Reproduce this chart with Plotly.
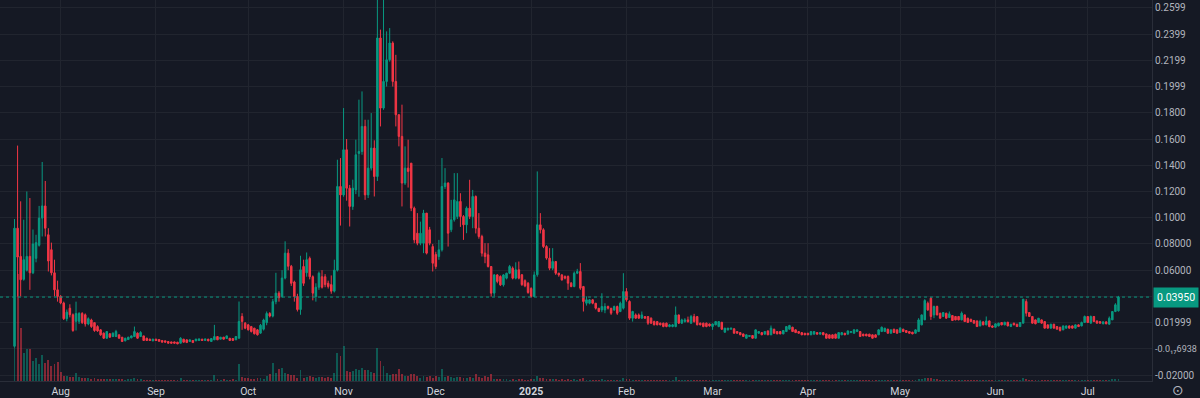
import pandas as pd
import plotly.graph_objects as go

start_date = "2024-07-17"

# ---- daily OHLC (one line per month) ----
open_ = [
    0.002, 0.092, 0.0705, 0.053, 0.060, 0.0705, 0.058, 0.069, 0.079, 0.0997, 0.109, 0.087, 0.0756, 0.058, 0.045,
    0.040, 0.035, 0.023, 0.031, 0.026, 0.021, 0.021, 0.027, 0.026, 0.019, 0.022, 0.020, 0.017, 0.0145, 0.012, 0.0081, 0.0115, 0.0094, 0.0094, 0.0107, 0.0089, 0.0061, 0.0071, 0.0084, 0.0094, 0.012, 0.0094, 0.0099, 0.0081, 0.0074, 0.0061,
    0.0074, 0.0071, 0.0064, 0.0061, 0.0056, 0.0053, 0.0053, 0.0051, 0.0043, 0.0074, 0.0069, 0.0056, 0.0064, 0.0061, 0.0064, 0.0074, 0.0064, 0.0074, 0.0056, 0.0069, 0.0094, 0.0074, 0.0089, 0.0079, 0.0081, 0.0079, 0.0069, 0.0081, 0.0247, 0.0196,
    0.0183, 0.0170, 0.0158, 0.0145, 0.012, 0.015, 0.020, 0.027, 0.025, 0.036, 0.0425, 0.040, 0.054, 0.073, 0.063, 0.051, 0.040, 0.030, 0.0628, 0.058, 0.069, 0.055, 0.040, 0.047, 0.055, 0.055, 0.050, 0.049, 0.044, 0.060, 0.1238,
    0.1174, 0.1518, 0.1225, 0.1086, 0.1212, 0.149, 0.1505, 0.1696, 0.1174, 0.1378, 0.1531, 0.1314, 0.2370, 0.1836, 0.2039, 0.2204, 0.2332, 0.2039, 0.1785, 0.162, 0.1264, 0.1378, 0.1416, 0.1073, 0.0882, 0.0806, 0.0806, 0.1035, 0.0908, 0.078,
    0.0720, 0.0704, 0.0755, 0.1238, 0.1264, 0.0908, 0.0984, 0.1009, 0.1124, 0.1009, 0.0946, 0.1073, 0.1009, 0.1162, 0.0920, 0.0857, 0.0730, 0.0717, 0.0628, 0.0425, 0.0564, 0.0552, 0.0488, 0.0539, 0.0577, 0.0615, 0.0539, 0.0603, 0.0565, 0.052, 0.050,
    0.046, 0.040, 0.0565, 0.0946, 0.0908, 0.0780, 0.0692, 0.0615, 0.0666, 0.0577, 0.0564, 0.0552, 0.0552, 0.0501, 0.0475, 0.0577, 0.059, 0.0475, 0.0348, 0.0348, 0.0374, 0.0348, 0.0310, 0.0297, 0.0297, 0.0323, 0.0310, 0.0297, 0.0323, 0.0285, 0.0310,
    0.0437, 0.0361, 0.0234, 0.0259, 0.0259, 0.0234, 0.0246, 0.0246, 0.0234, 0.0208, 0.0208, 0.0196, 0.0196, 0.0196, 0.0170, 0.0170, 0.0170, 0.0259, 0.0196, 0.0208, 0.0221, 0.0196, 0.0246, 0.0246, 0.0196, 0.0196, 0.0196, 0.0190,
    0.0170, 0.0183, 0.0170, 0.0203, 0.0127, 0.0145, 0.0150, 0.0153, 0.0132, 0.0124, 0.0114, 0.0081, 0.0094, 0.0102, 0.0081, 0.0119, 0.0124, 0.0112, 0.0137, 0.0107, 0.0150, 0.0132, 0.0132, 0.0114, 0.0132, 0.0150, 0.0165, 0.0145, 0.0132, 0.0124, 0.0119,
    0.0119, 0.0107, 0.0112, 0.0124, 0.0112, 0.0124, 0.0114, 0.0107, 0.0107, 0.0112, 0.0081, 0.0107, 0.0119, 0.0112, 0.0124, 0.0119, 0.0132, 0.0132, 0.0112, 0.0112, 0.0112, 0.0107, 0.0107, 0.0107, 0.0132, 0.0132, 0.0150, 0.0119, 0.0150, 0.0145,
    0.0125, 0.0150, 0.0140, 0.0132, 0.0127, 0.0119, 0.0132, 0.0183, 0.0221, 0.0348, 0.0386, 0.0259, 0.0323, 0.0272, 0.0247, 0.0272, 0.0239, 0.0254, 0.0247, 0.0247, 0.0221, 0.0259, 0.0234, 0.0226, 0.0216, 0.0213, 0.0175, 0.0206, 0.0183, 0.0213, 0.0175,
    0.0165, 0.0175, 0.0201, 0.0183, 0.0203, 0.0170, 0.0196, 0.0188, 0.0170, 0.0196, 0.0361, 0.0277, 0.0247, 0.0221, 0.0201, 0.0221, 0.0208, 0.0183, 0.0158, 0.0188, 0.0170, 0.0165, 0.0145, 0.0158, 0.0175, 0.0175, 0.0158, 0.0183, 0.0175, 0.0201,
    0.0247, 0.0196, 0.0247, 0.0213, 0.0208, 0.0191, 0.0206, 0.0188, 0.0221, 0.0285, 0.0290,
]

high = [
    0.099, 0.155, 0.1125, 0.0985, 0.120, 0.115, 0.091, 0.087, 0.109, 0.1425, 0.128, 0.092, 0.081, 0.068, 0.052,
    0.041, 0.036, 0.030, 0.034, 0.027, 0.036, 0.028, 0.028, 0.027, 0.024, 0.023, 0.020, 0.018, 0.015, 0.0125, 0.0135, 0.012, 0.0125, 0.0145, 0.011, 0.009, 0.0085, 0.0092, 0.0102, 0.017, 0.0125, 0.0135, 0.010, 0.0085, 0.0078, 0.0077,
    0.0077, 0.0074, 0.0066, 0.0063, 0.0058, 0.0055, 0.0055, 0.0053, 0.0089, 0.0076, 0.0071, 0.0071, 0.0066, 0.0077, 0.0079, 0.0076, 0.0078, 0.0076, 0.0081, 0.0183, 0.0096, 0.0091, 0.0091, 0.0102, 0.0083, 0.0081, 0.0097, 0.0361, 0.0272, 0.0205,
    0.019, 0.0175, 0.016, 0.015, 0.019, 0.023, 0.0285, 0.028, 0.038, 0.058, 0.044, 0.060, 0.082, 0.076, 0.064, 0.052, 0.042, 0.071, 0.068, 0.0735, 0.0704, 0.056, 0.050, 0.059, 0.060, 0.057, 0.052, 0.056, 0.068, 0.1442, 0.1455,
    0.1836, 0.160, 0.125, 0.129, 0.1595, 0.190, 0.1963, 0.1747, 0.1747, 0.1798, 0.159, 0.266, 0.2434, 0.266, 0.2421, 0.2446, 0.2345, 0.2242, 0.179, 0.1862, 0.1544, 0.1595, 0.1416, 0.1085, 0.1035, 0.097, 0.106, 0.1035, 0.093, 0.080,
    0.0740, 0.0831, 0.1455, 0.1378, 0.127, 0.1136, 0.134, 0.134, 0.1187, 0.102, 0.1086, 0.1289, 0.1212, 0.117, 0.1035, 0.087, 0.0806, 0.0806, 0.063, 0.057, 0.057, 0.056, 0.057, 0.058, 0.064, 0.0628, 0.066, 0.0666, 0.057, 0.053, 0.051,
    0.047, 0.059, 0.1353, 0.1035, 0.092, 0.079, 0.0768, 0.0768, 0.067, 0.058, 0.057, 0.056, 0.056, 0.051, 0.059, 0.061, 0.0654, 0.048, 0.040, 0.038, 0.038, 0.035, 0.031, 0.0424, 0.0348, 0.033, 0.031, 0.033, 0.033, 0.036, 0.0577,
    0.0463, 0.037, 0.029, 0.027, 0.027, 0.0285, 0.025, 0.025, 0.024, 0.0215, 0.021, 0.020, 0.020, 0.020, 0.019, 0.019, 0.0323, 0.026, 0.023, 0.0234, 0.0246, 0.0259, 0.0267, 0.025, 0.020, 0.020, 0.020, 0.0193,
    0.0193, 0.021, 0.021, 0.0205, 0.016, 0.016, 0.016, 0.0156, 0.0135, 0.0127, 0.0117, 0.011, 0.0105, 0.0104, 0.0148, 0.0135, 0.0127, 0.0135, 0.014, 0.0178, 0.0153, 0.0135, 0.0135, 0.0143, 0.0173, 0.0183, 0.0168, 0.0148, 0.0135, 0.0127, 0.0122,
    0.0122, 0.0135, 0.0135, 0.0127, 0.0127, 0.0127, 0.0117, 0.011, 0.011, 0.0115, 0.0127, 0.0127, 0.0122, 0.014, 0.0135, 0.015, 0.0148, 0.0135, 0.0115, 0.0115, 0.0115, 0.011, 0.011, 0.015, 0.017, 0.016, 0.0153, 0.0148, 0.0153, 0.0148,
    0.0165, 0.0153, 0.0143, 0.0135, 0.013, 0.0148, 0.0234, 0.0262, 0.0379, 0.0361, 0.0394, 0.033, 0.033, 0.0275, 0.028, 0.0275, 0.0285, 0.0257, 0.025, 0.025, 0.0285, 0.0262, 0.0237, 0.0229, 0.0219, 0.0216, 0.0221, 0.0209, 0.0247, 0.0216, 0.0178,
    0.0194, 0.0199, 0.0204, 0.0206, 0.0206, 0.0191, 0.0199, 0.0191, 0.0204, 0.0379, 0.0379, 0.028, 0.025, 0.0224, 0.0234, 0.0224, 0.0211, 0.0186, 0.0191, 0.0191, 0.0173, 0.0168, 0.0178, 0.0178, 0.0178, 0.0178, 0.0186, 0.0186, 0.0208, 0.0254,
    0.025, 0.0254, 0.025, 0.0216, 0.0211, 0.0209, 0.0209, 0.0247, 0.0285, 0.0348, 0.0404,
]

low = [
    0.001, 0.040, 0.040, 0.052, 0.059, 0.045, 0.057, 0.066, 0.078, 0.0857, 0.0857, 0.059, 0.056, 0.040, 0.036,
    0.034, 0.022, 0.021, 0.024, 0.013, 0.014, 0.019, 0.019, 0.017, 0.018, 0.016, 0.013, 0.013, 0.010, 0.0075, 0.0078, 0.0085, 0.009, 0.009, 0.0078, 0.0053, 0.0058, 0.0068, 0.008, 0.009, 0.0078, 0.009, 0.006, 0.006, 0.006, 0.0058,
    0.006, 0.0055, 0.0048, 0.0049, 0.0041, 0.0041, 0.004, 0.0036, 0.0041, 0.0049, 0.0046, 0.0053, 0.0046, 0.0059, 0.0062, 0.0062, 0.0062, 0.0059, 0.0054, 0.0067, 0.0067, 0.0072, 0.0072, 0.0077, 0.0062, 0.0062, 0.0067, 0.0079, 0.0145, 0.015,
    0.014, 0.0125, 0.011, 0.0102, 0.0115, 0.014, 0.018, 0.024, 0.024, 0.034, 0.036, 0.039, 0.053, 0.060, 0.048, 0.036, 0.0285, 0.026, 0.048, 0.055, 0.053, 0.037, 0.036, 0.045, 0.046, 0.047, 0.046, 0.042, 0.043, 0.059, 0.094,
    0.116, 0.113, 0.0933, 0.106, 0.118, 0.116, 0.148, 0.1136, 0.115, 0.136, 0.1162, 0.128, 0.1696, 0.1823, 0.200, 0.219, 0.200, 0.1696, 0.1544, 0.1086, 0.125, 0.123, 0.105, 0.0806, 0.079, 0.079, 0.073, 0.072, 0.079, 0.059,
    0.061, 0.0679, 0.0742, 0.122, 0.078, 0.089, 0.097, 0.099, 0.093, 0.0831, 0.0882, 0.099, 0.092, 0.088, 0.084, 0.0704, 0.0653, 0.062, 0.0399, 0.0399, 0.050, 0.048, 0.0475, 0.053, 0.057, 0.053, 0.053, 0.053, 0.048, 0.047, 0.042,
    0.039, 0.0395, 0.055, 0.088, 0.0768, 0.068, 0.060, 0.060, 0.0564, 0.055, 0.052, 0.053, 0.045, 0.047, 0.047, 0.057, 0.045, 0.0285, 0.033, 0.034, 0.034, 0.030, 0.028, 0.028, 0.0272, 0.030, 0.0259, 0.029, 0.0259, 0.028, 0.030,
    0.036, 0.0221, 0.0208, 0.023, 0.023, 0.023, 0.0228, 0.0183, 0.019, 0.018, 0.018, 0.018, 0.0165, 0.0165, 0.0165, 0.0165, 0.0165, 0.019, 0.019, 0.020, 0.020, 0.019, 0.020, 0.018, 0.018, 0.0165, 0.0165, 0.017,
    0.0145, 0.018, 0.0165, 0.0145, 0.0124, 0.014, 0.0148, 0.0117, 0.0117, 0.0105, 0.0092, 0.0079, 0.0092, 0.0079, 0.0079, 0.0115, 0.0105, 0.011, 0.0105, 0.0105, 0.0117, 0.0112, 0.0112, 0.0112, 0.013, 0.0148, 0.013, 0.0122, 0.0117, 0.0105, 0.0105,
    0.0105, 0.0105, 0.011, 0.011, 0.011, 0.0105, 0.0079, 0.0079, 0.0079, 0.0079, 0.0079, 0.0105, 0.0105, 0.011, 0.0122, 0.0117, 0.013, 0.0092, 0.0097, 0.0097, 0.0092, 0.0079, 0.009, 0.0105, 0.013, 0.013, 0.0117, 0.0117, 0.0122, 0.0117,
    0.0122, 0.013, 0.0122, 0.0117, 0.0112, 0.0117, 0.013, 0.018, 0.022, 0.029, 0.0221, 0.0234, 0.0255, 0.023, 0.0245, 0.023, 0.0237, 0.0213, 0.0218, 0.0218, 0.0218, 0.0205, 0.0198, 0.0205, 0.0193, 0.0167, 0.0172, 0.018, 0.018, 0.0165, 0.016,
    0.0162, 0.0172, 0.018, 0.018, 0.0172, 0.0167, 0.018, 0.0167, 0.0167, 0.0193, 0.0247, 0.0244, 0.0193, 0.0188, 0.0198, 0.0193, 0.0155, 0.0155, 0.0155, 0.0155, 0.0147, 0.0132, 0.0142, 0.0155, 0.0155, 0.0155, 0.0155, 0.0167, 0.0172, 0.0198,
    0.0198, 0.0193, 0.0205, 0.0193, 0.0193, 0.0188, 0.0188, 0.0185, 0.022, 0.028, 0.0285,
]

close = [
    0.092, 0.070, 0.0527, 0.068, 0.0705, 0.058, 0.080, 0.081, 0.0997, 0.109, 0.092, 0.067, 0.058, 0.045, 0.040,
    0.035, 0.023, 0.028, 0.026, 0.014, 0.027, 0.027, 0.020, 0.019, 0.023, 0.017, 0.014, 0.0137, 0.0107, 0.0081, 0.0132, 0.0089, 0.012, 0.0132, 0.0081, 0.0056, 0.0081, 0.0089, 0.0099, 0.0132, 0.0081, 0.0125, 0.0064, 0.0064, 0.0064, 0.0074,
    0.0064, 0.0058, 0.0051, 0.0051, 0.0043, 0.0043, 0.0043, 0.0038, 0.0081, 0.0051, 0.0048, 0.0069, 0.0048, 0.0074, 0.0076, 0.0064, 0.0076, 0.0061, 0.0079, 0.0094, 0.0069, 0.0089, 0.0074, 0.0099, 0.0064, 0.0064, 0.0094, 0.0209, 0.0209, 0.0158,
    0.0145, 0.0132, 0.0115, 0.0107, 0.018, 0.022, 0.027, 0.025, 0.036, 0.0425, 0.039, 0.054, 0.073, 0.063, 0.050, 0.040, 0.030, 0.0603, 0.050, 0.068, 0.055, 0.0425, 0.047, 0.0577, 0.047, 0.049, 0.0475, 0.044, 0.060, 0.1238, 0.1174,
    0.1518, 0.1225, 0.1086, 0.1225, 0.148, 0.1505, 0.1696, 0.1174, 0.1378, 0.1531, 0.1314, 0.2370, 0.1836, 0.2039, 0.2204, 0.2332, 0.2039, 0.1785, 0.162, 0.1264, 0.1378, 0.1353, 0.1073, 0.0831, 0.0806, 0.0882, 0.1035, 0.0730, 0.0806, 0.0653,
    0.0628, 0.0755, 0.1238, 0.1264, 0.0882, 0.0984, 0.1136, 0.1124, 0.1009, 0.0946, 0.1073, 0.1009, 0.1162, 0.0920, 0.0857, 0.0730, 0.0704, 0.0628, 0.0425, 0.0564, 0.0514, 0.0488, 0.0564, 0.0577, 0.0628, 0.0539, 0.0603, 0.0539, 0.049, 0.048, 0.043,
    0.040, 0.0564, 0.0946, 0.0908, 0.0780, 0.0692, 0.0615, 0.0666, 0.0577, 0.0564, 0.0526, 0.0539, 0.0501, 0.0475, 0.0577, 0.0590, 0.0463, 0.0361, 0.0374, 0.0374, 0.0348, 0.0310, 0.0285, 0.0323, 0.0323, 0.0310, 0.0272, 0.0323, 0.0272, 0.0348, 0.0437,
    0.0374, 0.0234, 0.0285, 0.0234, 0.0234, 0.0259, 0.0234, 0.0196, 0.0196, 0.0183, 0.0183, 0.0183, 0.0170, 0.0170, 0.0183, 0.0183, 0.0259, 0.0196, 0.0221, 0.0221, 0.0208, 0.0246, 0.0208, 0.0183, 0.0183, 0.0170, 0.0170, 0.0175,
    0.0190, 0.0208, 0.0208, 0.0150, 0.0158, 0.0158, 0.0158, 0.0119, 0.0119, 0.0107, 0.0094, 0.0107, 0.0102, 0.0081, 0.0145, 0.0132, 0.0107, 0.0132, 0.0107, 0.0158, 0.0119, 0.0114, 0.0114, 0.0140, 0.0170, 0.0178, 0.0132, 0.0124, 0.0119, 0.0107, 0.0107,
    0.0107, 0.0132, 0.0132, 0.0112, 0.0124, 0.0107, 0.0081, 0.0081, 0.0081, 0.0081, 0.0124, 0.0124, 0.0107, 0.0137, 0.0132, 0.0145, 0.0145, 0.0094, 0.0099, 0.0099, 0.0094, 0.0081, 0.0088, 0.0145, 0.0165, 0.0158, 0.0119, 0.0145, 0.0125, 0.0119,
    0.0158, 0.0132, 0.0125, 0.0119, 0.0114, 0.0145, 0.0221, 0.0259, 0.0369, 0.0297, 0.0247, 0.0323, 0.0259, 0.0234, 0.0277, 0.0234, 0.0267, 0.0216, 0.0221, 0.0221, 0.0272, 0.0208, 0.0201, 0.0208, 0.0196, 0.0170, 0.0208, 0.0183, 0.0213, 0.0170, 0.0165,
    0.0191, 0.0196, 0.0183, 0.0203, 0.0175, 0.0188, 0.0183, 0.0170, 0.0201, 0.0379, 0.0272, 0.0247, 0.0196, 0.0191, 0.0234, 0.0196, 0.0158, 0.0158, 0.0188, 0.0158, 0.0150, 0.0140, 0.0175, 0.0175, 0.0158, 0.0158, 0.0183, 0.0170, 0.0201, 0.0247,
    0.0201, 0.0247, 0.0208, 0.0196, 0.0196, 0.0206, 0.0191, 0.0234, 0.0285, 0.0336, 0.0395,
]

# volume, millions (relative)
volume = [
    60, 107, 53, 28, 32, 32, 20, 23, 17, 26, 18, 21, 15, 17, 19,
    9, 5, 5, 4, 4, 8, 4, 3, 3, 3, 2, 3, 2, 2, 2, 2, 2, 2, 2, 2, 2, 1.5, 2, 2, 3, 2, 2, 1.5, 1.5, 1.5, 1.5,
    1.5, 1.2, 1.2, 1.0, 1.2, 1.0, 1.0, 1.2, 3.0, 1.5, 1.2, 1.5, 1.2, 1.5, 1.2, 1.5, 1.2, 1.5, 1.5, 6.0, 2.0, 1.5, 2.0, 1.5, 1.5, 2.0, 1.5, 17, 4, 3,
    3, 2, 2, 3, 3, 2, 5, 7, 18, 8, 12, 13, 8, 7, 6, 6, 3, 11, 3, 4, 5, 4, 3, 4, 4, 3, 4, 3, 8, 28, 25,
    35, 10, 9, 10, 12, 11, 13, 11, 11, 9, 8, 33, 20, 15, 8, 6, 7, 7, 12, 7, 5, 5, 7, 7, 5, 3, 5, 4, 5, 3,
    5, 4, 12, 4, 5, 4, 3, 4, 4, 3, 3, 4, 3, 7, 4, 3, 5, 4, 7, 2, 2, 2, 2, 2, 1.5, 2, 1.5, 2, 2, 1.5, 1.5,
    2, 2, 5, 3, 3, 2, 2, 2, 2, 1.5, 2, 1.5, 2, 1.5, 2, 1.5, 2, 3, 1.5, 1.5, 1.5, 1.5, 1.5, 2.5, 1.5, 1.5, 1.5, 1.5, 1.5, 1.5, 3,
    2, 2, 1.5, 1.5, 1.2, 1.2, 1.2, 1.5, 1.2, 1.2, 1.2, 1.2, 1.2, 1.2, 1.2, 1.2, 4.5, 1.5, 1.2, 1.2, 1.5, 1.2, 1.2, 1.2, 1.2, 1.2, 1.2, 1.2,
    1.5, 1.2, 1.2, 1.5, 1.2, 1.2, 1.0, 1.2, 1.2, 1.0, 1.2, 1.0, 1.0, 1.2, 1.5, 1.2, 1.0, 1.2, 1.2, 1.5, 1.2, 1.0, 1.0, 1.2, 1.5, 1.2, 1.2, 1.0, 1.0, 1.0, 1.0,
    1.0, 1.2, 1.0, 1.0, 1.0, 1.0, 1.2, 1.0, 1.0, 1.0, 1.2, 1.0, 1.0, 1.2, 1.0, 1.2, 1.0, 1.2, 1.0, 1.0, 1.0, 1.0, 1.0, 1.2, 1.5, 1.2, 1.2, 1.0, 1.2, 1.0,
    1.2, 1.2, 1.0, 1.0, 1.0, 1.2, 2.0, 2.5, 3.5, 3.0, 3.5, 2.5, 2.0, 1.5, 1.5, 1.5, 1.5, 1.2, 1.2, 1.2, 1.5, 1.2, 1.2, 1.2, 1.0, 1.2, 1.2, 1.0, 1.2, 1.2, 1.0,
    1.2, 1.0, 1.0, 1.2, 1.0, 1.0, 1.0, 1.0, 1.2, 3.5, 2.5, 1.5, 1.5, 1.2, 1.2, 1.2, 1.2, 1.0, 1.2, 1.0, 1.0, 1.0, 1.2, 1.0, 1.0, 1.0, 1.2, 1.0, 1.2, 1.5,
    1.2, 1.5, 1.2, 1.0, 1.0, 1.2, 1.0, 1.5, 2.0, 2.5, 2.5,
]

month_ticks = ["2024-08-01", "2024-09-01", "2024-10-01", "2024-11-01", "2024-12-01", "2025-01-01",
               "2025-02-01", "2025-03-01", "2025-04-01", "2025-05-01", "2025-06-01", "2025-07-01"]
month_labels = ["Aug", "Sep", "Oct", "Nov", "Dec", "<b>2025</b>", "Feb", "Mar", "Apr", "May", "Jun", "Jul"]

price_ticks = [-0.02, 0.0, 0.02, 0.04, 0.06, 0.08, 0.10, 0.12, 0.14, 0.16, 0.18, 0.20, 0.22, 0.24, 0.26]
price_labels = ["-0.02000", '<span style="font-size:9px">-0.0\u2081\u20876938</span>', "0.01999", "", "0.06000",
                "0.08000", "0.1000", "0.1200", "0.1400", "0.1600", "0.1800", "0.1999", "0.2199", "0.2399", "0.2599"]
last_price = 0.0395
last_label = "0.03950"

n = len(close)
assert len(open_) == n and len(high) == n and len(low) == n and len(volume) == n, \
    (len(open_), len(high), len(low), len(close), len(volume))
dates = pd.date_range(start_date, periods=n, freq="D")

UP = "#089981"
DOWN = "#F23645"
BG = "#151924"
GRID = "#21252f"
AXLINE = "#2a2e39"

vol_colors = ["rgba(8,153,129,0.5)" if c >= o else "rgba(242,54,69,0.5)" for o, c in zip(open_, close)]

t0 = pd.Timestamp(start_date)
x_start = (t0 - pd.Timedelta(hours=4.72 * 24)).isoformat()
x_end = (t0 + pd.Timedelta(hours=369.9 * 24)).isoformat()

fig = go.Figure()
fig.add_trace(go.Bar(
    x=dates, y=volume, marker=dict(color=vol_colors, line=dict(width=0)),
    width=0.62 * 86400000, yaxis="y", hoverinfo="skip", showlegend=False))
fig.add_trace(go.Candlestick(
    x=dates, open=open_, high=high, low=low, close=close, yaxis="y2",
    increasing=dict(line=dict(color=UP, width=1), fillcolor=UP),
    decreasing=dict(line=dict(color=DOWN, width=1), fillcolor=DOWN),
    whiskerwidth=0, showlegend=False))

fig.update_layout(
    width=1200, height=398,
    margin=dict(l=0, r=48, t=0, b=17, pad=0),
    paper_bgcolor=BG, plot_bgcolor=BG,
    font=dict(family="Roboto, Noto Sans, sans-serif", color="#b2b5be", size=10),
    bargap=0,
    xaxis=dict(
        type="date", range=[x_start, x_end], rangeslider=dict(visible=False),
        tickvals=month_ticks, ticktext=month_labels, ticks="", automargin=False,
        showgrid=True, gridcolor=GRID, gridwidth=1,
        showline=True, linecolor=AXLINE, linewidth=1, mirror=False,
        tickfont=dict(color="#d1d4dc", size=10.5), zeroline=False, fixedrange=True,
    ),
    yaxis=dict(range=[0, 381], visible=False, showgrid=False, fixedrange=True, automargin=False),
    yaxis2=dict(
        overlaying="y", side="right", anchor="x", automargin=False,
        range=[-0.0245, 0.2660], tickvals=price_ticks, ticktext=price_labels,
        ticks="", showgrid=True, gridcolor=GRID, gridwidth=1, zeroline=False,
        showline=True, linecolor=AXLINE, linewidth=1,
        tickfont=dict(color="#b2b5be", size=10), fixedrange=True,
    ),
    shapes=[dict(type="line", xref="paper", x0=0, x1=1, yref="y2", y0=last_price, y1=last_price,
                 line=dict(color=UP, width=1, dash="dot"))],
    annotations=[
        dict(xref="paper", x=1, xanchor="left", yref="y2", y=last_price, yanchor="middle",
             text=last_label, showarrow=False, bgcolor=UP, borderpad=3,
             font=dict(color="#ffffff", size=10.5, family="Roboto, sans-serif"), xshift=1),
        dict(xref="paper", x=1178 / 1152, xanchor="center", yref="paper", y=-9 / 381, yanchor="middle",
             text="\u2299", showarrow=False, font=dict(color="#b2b5be", size=14, family="DejaVu Sans")),
    ],
)

fig.write_html(
    "out.html",
    config={"displayModeBar": False},
    post_script="document.body.style.margin='0';document.body.style.background='#151924';",
)
